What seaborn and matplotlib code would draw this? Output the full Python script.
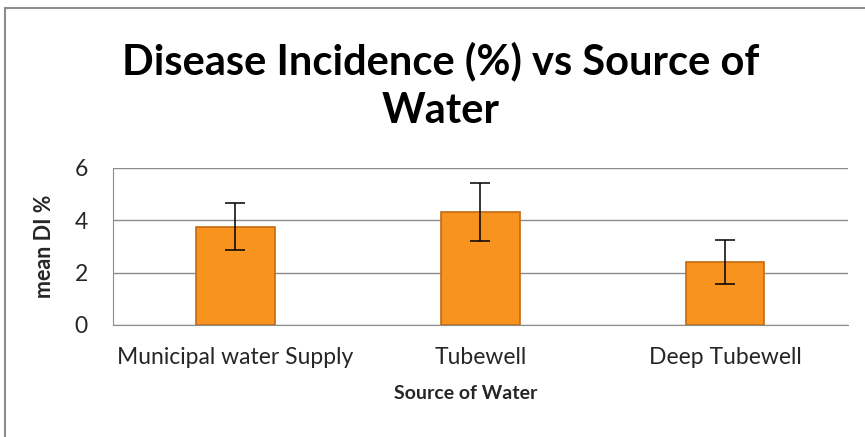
import matplotlib.pyplot as plt
import pandas as pd
import seaborn as sns

sources = ["Municipal water Supply", "Tubewell", "Deep Tubewell"]
mean_di = [3.76, 4.32, 2.40]
di_err = [0.90, 1.10, 0.84]
y_ticks = [0, 2, 4, 6]

FONT = ["Lato", "DejaVu Sans"]


def build_chart() -> str:
    df = pd.DataFrame({"source": sources, "mean_di": mean_di, "err": di_err})

    sns.set_style("white")
    plt.rcParams["font.family"] = FONT

    fig = plt.figure(figsize=(8.65, 4.37), dpi=100)
    ax = fig.add_axes([0.1306, 0.2563, 0.8494, 0.3593])

    sns.barplot(data=df, x="source", y="mean_di", color="#F7931E", width=0.32,
                edgecolor="#C46A12", linewidth=1.2, saturation=1, errorbar=None, ax=ax)
    ax.errorbar(x=range(len(sources)), y=df["mean_di"], yerr=df["err"], fmt="none",
                ecolor="black", elinewidth=1.1, capsize=7, capthick=1.1)

    ax.set_ylim(0, 6)
    ax.set_yticks(y_ticks)
    ax.set_xlim(-0.5, len(sources) - 0.5)
    ax.yaxis.grid(True, color="#8c8c8c", linewidth=1)
    ax.set_axisbelow(True)
    for side in ["top", "right"]:
        ax.spines[side].set_visible(False)
    for side in ["left", "bottom"]:
        ax.spines[side].set_color("#8c8c8c")
    ax.tick_params(axis="x", length=0, labelsize=16.5, labelcolor="#262626", pad=16)
    ax.tick_params(axis="y", length=0, labelsize=16.5, labelcolor="#262626", pad=18)

    ax.set_xlabel("Source of Water", fontsize=14, fontweight="bold")
    ax.xaxis.set_label_coords(0.48, -0.385)
    ax.set_ylabel("mean DI %", fontsize=15.5, fontweight="bold", labelpad=14)

    fig.text(0.509, 0.86, "Disease Incidence (%) vs Source of", ha="center", va="center",
             fontsize=30, fontweight="bold", color="black")
    fig.text(0.509, 0.745, "Water", ha="center", va="center",
             fontsize=30, fontweight="bold", color="black")

    # border of the chart box, cut off by the page on the right and bottom
    fig.add_artist(plt.Line2D([0.006, 0.006], [0.0, 0.982], color="#8c8c8c", lw=1.5))
    fig.add_artist(plt.Line2D([0.006, 1.0], [0.982, 0.982], color="#8c8c8c", lw=1.5))

    fig.patch.set_facecolor("white")
    out_file = "out.png"
    fig.savefig(out_file, dpi=100)
    return out_file


build_chart()
